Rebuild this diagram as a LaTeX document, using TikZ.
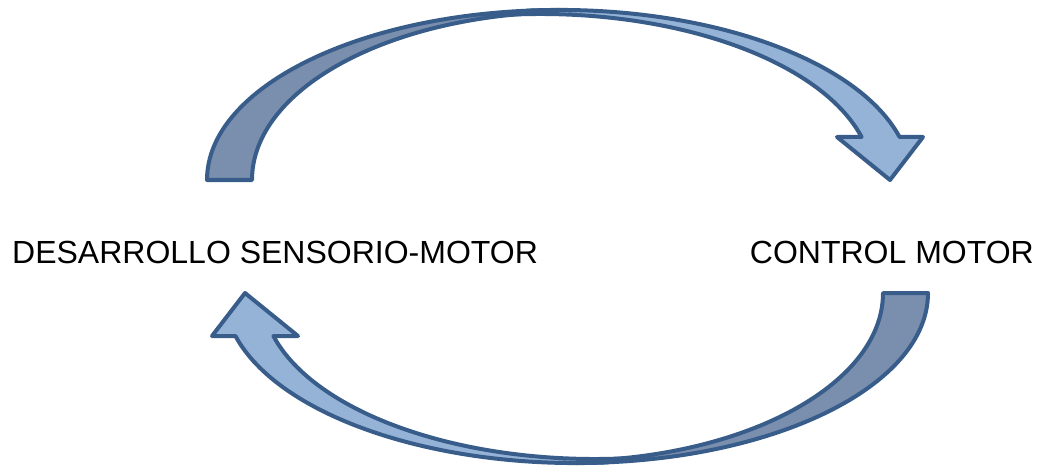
\documentclass[tikz,border=0pt]{standalone}
\usepackage{fontspec}
\setmainfont{Liberation Sans}
\usetikzlibrary{positioning}

\definecolor{borde}{HTML}{385D8A}
\definecolor{frente}{HTML}{95B3D7}
\definecolor{dorso}{HTML}{7A8FAE}

\tikzset{
	cinta/.style={draw=borde, line width=4pt, line join=round},
	rotulo/.style={inner sep=0pt, font=\fontsize{32}{38}\selectfont},
}

% flecha curva (cara de atras + cara de frente con punta)
\newcommand{\flechacurva}{%
	\filldraw[cinta, fill=dorso] (207,292) arc[start angle=180, end angle=90, x radius=352, y radius=170]
		-- (570,460) arc[start angle=90, end angle=180, x radius=318, y radius=168] -- cycle;
	\filldraw[cinta, fill=frente] (528.3,461.4) arc[start angle=95, end angle=14.65, x radius=352, y radius=170]
		-- (923,335) -- (890,292) -- (837,335) -- (861.6,335)
		arc[start angle=15.01, end angle=95, x radius=333, y radius=166] -- cycle;
}

\begin{document}
\begin{tikzpicture}[x=1pt,y=1pt]
	\useasboundingbox (0,0) rectangle (1038,472);
	%% flecha de arriba
	\begin{scope}
		\flechacurva
	\end{scope}
	%% flecha de abajo
	\begin{scope}[rotate around={180:(567.5,235.5)}]
		\flechacurva
	\end{scope}
	% textos
	\node[rotulo, anchor=base west] (desarrollo) at (12,209) {DESARROLLO SENSORIO-MOTOR};
	\node[rotulo, anchor=base east] (control) at (1034,209) {CONTROL MOTOR};
\end{tikzpicture}
\end{document}
